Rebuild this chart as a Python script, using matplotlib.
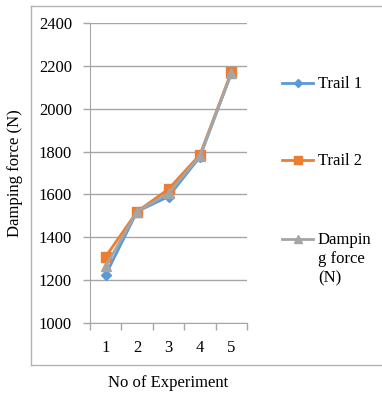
import matplotlib
matplotlib.use("Agg")
import matplotlib.pyplot as plt
from matplotlib.lines import Line2D

plt.rcParams['font.family'] = ['Liberation Serif', 'DejaVu Serif']

experiments = [1, 2, 3, 4, 5]
trail_1 = [1225, 1520, 1590, 1775, 2165]
trail_2 = [1310, 1520, 1625, 1785, 2170]
damping = [1265, 1520, 1605, 1780, 2165]

series = [
    ("Trail 1", trail_1, "#5B9BD5", "D", 5),
    ("Trail 2", trail_2, "#ED7D31", "s", 6.5),
    ("Dampin\ng force\n(N)", damping, "#A5A5A5", "^", 7),
]

W, H = 382, 394
fig = plt.figure(figsize=(W / 100, H / 100), dpi=100)
ax = fig.add_axes([90 / W, 1 - 323 / H, 157 / W, 300 / H])

for label, vals, color, marker, ms in series:
    ax.plot(experiments, vals, color=color, marker=marker, markersize=ms,
            linewidth=2, zorder=3)

ax.set_xlim(0.5, 5.5)
ax.set_ylim(1000, 2400)
ax.set_yticks(range(1000, 2401, 200))
ax.set_xticks(experiments)
ax.set_xticks([0.5 + i for i in range(6)], minor=True)
ax.tick_params(axis='x', which='major', length=0, pad=12, labelsize=12)
ax.tick_params(axis='x', which='minor', length=5, color='#a6a6a6', width=1)
ax.tick_params(axis='y', length=5, color='#a6a6a6', width=1, pad=8, labelsize=12)

ax.grid(axis='y', color='#a6a6a6', linewidth=1)
ax.set_axisbelow(True)
for s in ['top', 'right']:
    ax.spines[s].set_visible(False)
for s in ['left', 'bottom']:
    ax.spines[s].set_color('#a6a6a6')

fig.text(15 / W, 1 - 173 / H, "Damping force (N)", rotation=90,
         ha='center', va='center', fontsize=12)
fig.text(168 / W, 1 - 383 / H, "No of Experiment", ha='center', va='center',
         fontsize=12)

# chart frame (open to the right, runs past the image edge)
x0, y_top, y_bot = 30.5 / W, 1 - 5.5 / H, 1 - 364.5 / H
fig.add_artist(Line2D([x0, 1.2], [y_top, y_top], color='#b3b3b3',
                      linewidth=1, transform=fig.transFigure))
fig.add_artist(Line2D([x0, 1.2], [y_bot, y_bot], color='#b3b3b3',
                      linewidth=1, transform=fig.transFigure))
fig.add_artist(Line2D([x0, x0], [y_bot, y_top], color='#b3b3b3',
                      linewidth=1, transform=fig.transFigure))

# legend
leg_y = [83, 160, 239]
for (label, vals, color, marker, ms), y in zip(series, leg_y):
    yf = 1 - y / H
    fig.add_artist(Line2D([282 / W, 313 / W], [yf, yf], color=color,
                          linewidth=2, transform=fig.transFigure))
    fig.add_artist(Line2D([297.5 / W], [yf], color=color, marker=marker,
                          markersize=ms - 1, transform=fig.transFigure))
    fig.text(318 / W, yf + 7 / H, label, ha='left', va='top', fontsize=12,
             linespacing=1.25)

fig.savefig("out.png", dpi=100)
